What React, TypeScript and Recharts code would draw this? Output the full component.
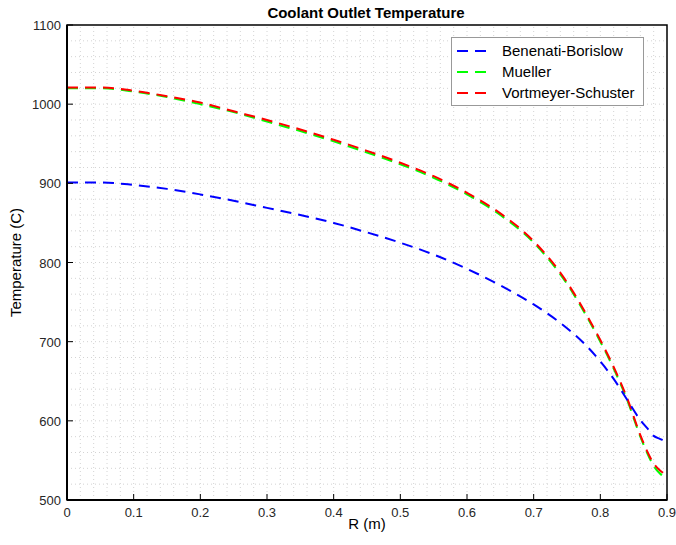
import { LineChart, Line, XAxis, YAxis, ReferenceLine, ReferenceArea } from 'recharts'

const rValues = [0, 0.05, 0.1, 0.15, 0.2, 0.25, 0.3, 0.35, 0.4, 0.45, 0.5, 0.55, 0.6, 0.65, 0.7, 0.75, 0.78, 0.8, 0.82, 0.84, 0.86, 0.87, 0.88, 0.89, 0.895]
const benenati = [901, 901, 898, 893, 886, 878, 869, 860, 850, 838, 825, 810, 792, 771, 747, 717, 694, 675, 653, 627, 601, 591, 581, 577, 575]
const mueller = [1020, 1020, 1016, 1009, 1000, 990, 978, 966, 953, 939, 924, 907, 886, 860, 825, 773, 731, 700, 666, 627, 580, 560, 543, 533, 530]
const vortmeyer = [1021, 1021, 1017, 1010, 1002, 991, 980, 968, 955, 941, 926, 909, 888, 862, 827, 775, 733, 702, 668, 629, 582, 562, 546, 537, 534]

const xTicks = [0, 0.1, 0.2, 0.3, 0.4, 0.5, 0.6, 0.7, 0.8, 0.9]
const yTicks = [500, 600, 700, 800, 900, 1000, 1100]

const seriesNames = ['Benenati-Borislow', 'Mueller', 'Vortmeyer-Schuster']
const seriesColors = ['#0000ff', '#00ff00', '#ff0000']

const data = rValues.map((r, i) => ({ r, benenati: benenati[i], mueller: mueller[i], vortmeyer: vortmeyer[i] }))

const minorX: number[] = []
for (let i = 1; i < 45; i++) minorX.push(+(i * 0.02).toFixed(2))
const minorY: number[] = []
for (let v = 520; v < 1100; v += 20) minorY.push(v)

const font = '"Liberation Sans", Arial, Helvetica, sans-serif'
const tickColor = '#262626'

const XTick = ({ x, y, payload }: any) => (
  <g>
    <line x1={x} x2={x} y1={y} y2={y - 6} stroke="#000" strokeWidth={1} />
    <text x={x} y={y + 17} textAnchor="middle" fontSize={13} fill={tickColor} fontFamily={font}>
      {payload.value}
    </text>
  </g>
)

const YTick = ({ x, y, payload }: any) => (
  <g>
    <line x1={x} x2={x + 6} y1={y} y2={y} stroke="#000" strokeWidth={1} />
    <text x={x - 6} y={y + 5} textAnchor="end" fontSize={13} fill={tickColor} fontFamily={font}>
      {payload.value}
    </text>
  </g>
)

const LegendBox = () => (
  <div style={{ position: 'absolute', left: 451, top: 37, border: '1px solid #999', background: '#fff', padding: '2px 8px 2px 4px', fontFamily: font, fontSize: 15, color: '#000' }}>
    {seriesNames.map((n, i) => (
      <div key={n} style={{ display: 'flex', alignItems: 'center', height: 21 }}>
        <svg width={36} height={10} style={{ marginRight: 10 }}>
          <line x1={1} x2={35} y1={5} y2={5} stroke={seriesColors[i]} strokeWidth={2} strokeDasharray="11 7" />
        </svg>
        {n}
      </div>
    ))}
  </div>
)

export default function App() {
  return (
    <div style={{ position: 'absolute', left: 0, top: 0, width: 676, height: 545, background: '#fff' }}>
      <LineChart width={676} height={545} data={data} margin={{ top: 25, right: 9, bottom: 15, left: 0 }}>
        <XAxis
          dataKey="r"
          type="number"
          domain={[0, 0.9]}
          ticks={xTicks}
          interval={0}
          height={30}
          tickSize={0}
          tickMargin={0}
          tickLine={false}
          tick={<XTick />}
          axisLine={{ stroke: '#000', strokeWidth: 2 }}
          label={{ value: 'R (m)', position: 'insideBottom', offset: 1, fontSize: 15, fill: '#000', fontFamily: font }}
        />
        <YAxis
          type="number"
          domain={[500, 1100]}
          ticks={yTicks}
          interval={0}
          width={67}
          tickSize={0}
          tickMargin={0}
          tickLine={false}
          tick={<YTick />}
          axisLine={{ stroke: '#000', strokeWidth: 2 }}
          label={{ value: 'Temperature (C)', angle: -90, position: 'insideLeft', offset: 16, fontSize: 15, fill: '#000', fontFamily: font, style: { textAnchor: 'middle' } }}
        />
        {minorX.map((v) => (
          <ReferenceLine key={'x' + v} x={v} stroke="#d4d4d4" strokeWidth={1} strokeDasharray="1 3" />
        ))}
        {minorY.map((v) => (
          <ReferenceLine key={'y' + v} y={v} stroke="#d4d4d4" strokeWidth={1} strokeDasharray="1 3" />
        ))}
        <ReferenceArea x1={0} x2={0.9} y1={500} y2={1100} fill="none" stroke="#000" strokeWidth={1.5} />
        <Line type="monotone" dataKey="mueller" stroke={seriesColors[1]} strokeWidth={2} strokeDasharray="11 7" dot={false} isAnimationActive={false} />
        <Line type="monotone" dataKey="vortmeyer" stroke={seriesColors[2]} strokeWidth={2} strokeDasharray="11 7" dot={false} isAnimationActive={false} />
        <Line type="monotone" dataKey="benenati" stroke={seriesColors[0]} strokeWidth={2} strokeDasharray="11 7" dot={false} isAnimationActive={false} />
        <text x={366} y={18} textAnchor="middle" fontSize={15} fontWeight="bold" fill="#000" fontFamily={font}>
          Coolant Outlet Temperature
        </text>
      </LineChart>
      <LegendBox />
    </div>
  )
}
